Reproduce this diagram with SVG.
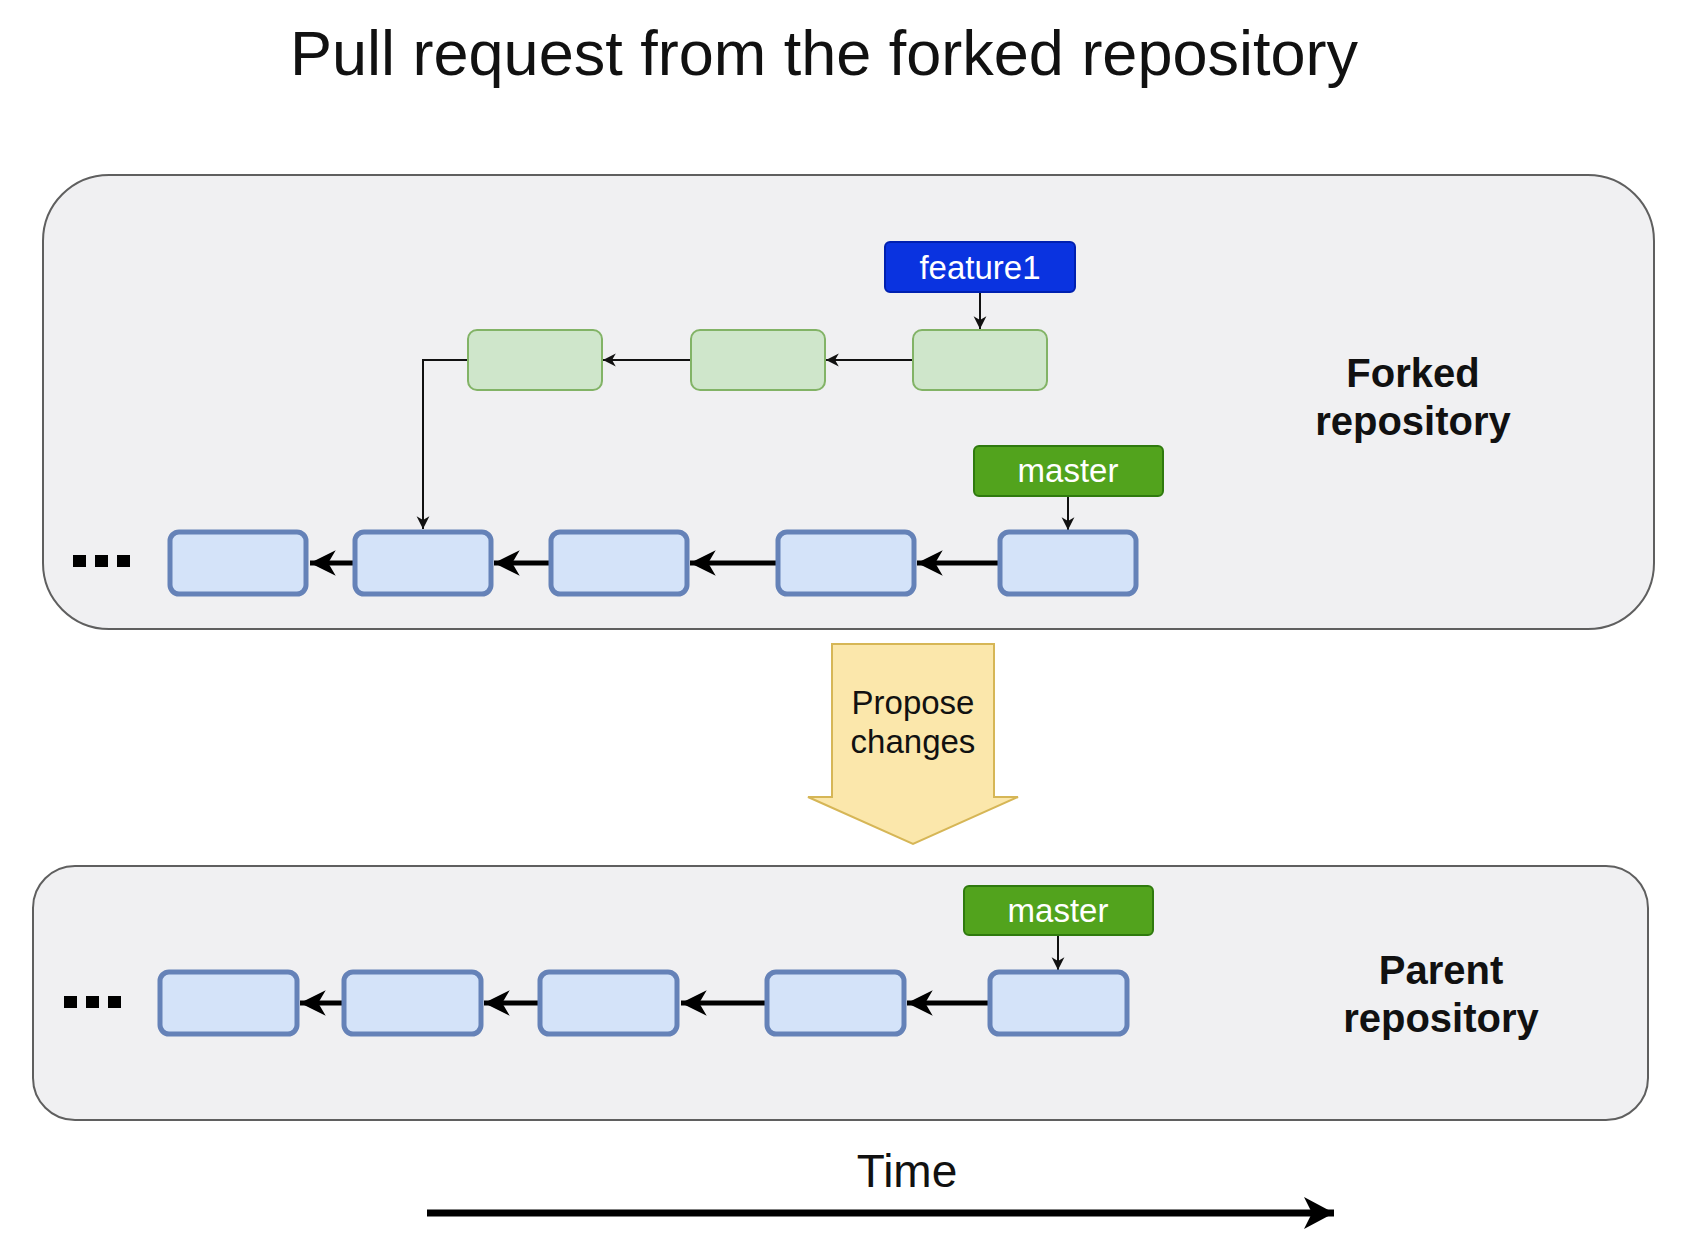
<svg xmlns="http://www.w3.org/2000/svg" width="1687" height="1246" viewBox="0 0 1687 1246">
<style>
text{font-family:"Liberation Sans",Arial,Helvetica,sans-serif}
.repo{fill:#f0f0f2;stroke:#5f5f5f;stroke-width:2}
.commit{fill:#d4e3f9;stroke:#6582b8;stroke-width:5}
.gcommit{fill:#cfe6cb;stroke:#82b366;stroke-width:2}
.lbl{font-size:33px;fill:#ffffff;text-anchor:middle}
.repotxt{font-size:40px;font-weight:bold;fill:#111;text-anchor:middle}
.thick{stroke:#000;stroke-width:5;fill:none}
.thin{stroke:#111;stroke-width:2;fill:none}
.dot{fill:#000}
</style>
<defs>
<marker id="big" markerUnits="userSpaceOnUse" markerWidth="30" markerHeight="30" viewBox="-26 -13 28 26" refX="0" refY="0" orient="auto">
<path d="M0,0 L-24,-12 L-17,0 L-24,12 Z" fill="#000"/>
</marker>
<marker id="small" markerUnits="userSpaceOnUse" markerWidth="16" markerHeight="16" viewBox="-14 -7 15 14" refX="0" refY="0" orient="auto">
<path d="M0,0 L-12,-6 L-8.5,0 L-12,6 Z" fill="#111"/>
</marker>
<marker id="time" markerUnits="userSpaceOnUse" markerWidth="34" markerHeight="40" viewBox="-32 -18 34 36" refX="0" refY="0" orient="auto">
<path d="M0,0 L-30,-16 L-22,0 L-30,16 Z" fill="#000"/>
</marker>
</defs>

<text id="title" x="824" y="75" font-size="63" text-anchor="middle" fill="#111">Pull request from the forked repository</text>

<g id="forked-repo">
<rect class="repo" x="43" y="175" width="1611" height="454" rx="66"/>
<text class="repotxt" x="1413" y="387">Forked</text>
<text class="repotxt" x="1413" y="435">repository</text>
</g>

<g id="parent-repo">
<rect class="repo" x="33" y="866" width="1615" height="254" rx="42"/>
<text class="repotxt" x="1441" y="984">Parent</text>
<text class="repotxt" x="1441" y="1032">repository</text>
</g>

<g id="connectors">
<line class="thick" x1="355" y1="563" x2="310" y2="563" marker-end="url(#big)"/>
<line class="thick" x1="551" y1="563" x2="494" y2="563" marker-end="url(#big)"/>
<line class="thick" x1="778" y1="563" x2="690" y2="563" marker-end="url(#big)"/>
<line class="thick" x1="1000" y1="563" x2="917" y2="563" marker-end="url(#big)"/>
<line class="thick" x1="344" y1="1003" x2="300" y2="1003" marker-end="url(#big)"/>
<line class="thick" x1="540" y1="1003" x2="484" y2="1003" marker-end="url(#big)"/>
<line class="thick" x1="767" y1="1003" x2="681" y2="1003" marker-end="url(#big)"/>
<line class="thick" x1="990" y1="1003" x2="907" y2="1003" marker-end="url(#big)"/>
<line class="thin" x1="913" y1="360" x2="826" y2="360" marker-end="url(#small)"/>
<line class="thin" x1="691" y1="360" x2="603" y2="360" marker-end="url(#small)"/>
<polyline class="thin" points="468,360 423,360 423,529" marker-end="url(#small)"/>
<line class="thin" x1="980" y1="292" x2="980" y2="329" marker-end="url(#small)"/>
<line class="thin" x1="1068" y1="496" x2="1068" y2="530" marker-end="url(#small)"/>
<line class="thin" x1="1058" y1="935" x2="1058" y2="970" marker-end="url(#small)"/>
</g>

<g id="top-dots">
<rect class="dot" x="73" y="555" width="13" height="12"/>
<rect class="dot" x="95" y="555" width="13" height="12"/>
<rect class="dot" x="117" y="555" width="13" height="12"/>
</g>
<g id="top-commit-1"><rect class="commit" x="170" y="532" width="136" height="62" rx="9"/></g>
<g id="top-commit-2"><rect class="commit" x="355" y="532" width="136" height="62" rx="9"/></g>
<g id="top-commit-3"><rect class="commit" x="551" y="532" width="136" height="62" rx="9"/></g>
<g id="top-commit-4"><rect class="commit" x="778" y="532" width="136" height="62" rx="9"/></g>
<g id="top-commit-5"><rect class="commit" x="1000" y="532" width="136" height="62" rx="9"/></g>

<g id="feature-commit-1"><rect class="gcommit" x="468" y="330" width="134" height="60" rx="9"/></g>
<g id="feature-commit-2"><rect class="gcommit" x="691" y="330" width="134" height="60" rx="9"/></g>
<g id="feature-commit-3"><rect class="gcommit" x="913" y="330" width="134" height="60" rx="9"/></g>

<g id="feature1-label">
<rect x="885" y="242" width="190" height="50" rx="5" fill="#0a33e0" stroke="#0020b0" stroke-width="2"/>
<text class="lbl" x="980" y="279">feature1</text>
</g>
<g id="master-label-top">
<rect x="974" y="446" width="189" height="50" rx="5" fill="#52a31d" stroke="#2f7a0e" stroke-width="2"/>
<text class="lbl" x="1068" y="482">master</text>
</g>

<g id="propose-changes">
<path d="M832,644 L994,644 L994,797 L1018,797 L913,844 L808,797 L832,797 Z" fill="#fbe7ab" stroke="#d6b656" stroke-width="2"/>
<text x="913" y="714" font-size="33" text-anchor="middle" fill="#111">Propose</text>
<text x="913" y="753" font-size="33" text-anchor="middle" fill="#111">changes</text>
</g>

<g id="bottom-dots">
<rect class="dot" x="64" y="996" width="13" height="12"/>
<rect class="dot" x="86" y="996" width="13" height="12"/>
<rect class="dot" x="108" y="996" width="13" height="12"/>
</g>
<g id="bottom-commit-1"><rect class="commit" x="160" y="972" width="137" height="62" rx="9"/></g>
<g id="bottom-commit-2"><rect class="commit" x="344" y="972" width="137" height="62" rx="9"/></g>
<g id="bottom-commit-3"><rect class="commit" x="540" y="972" width="137" height="62" rx="9"/></g>
<g id="bottom-commit-4"><rect class="commit" x="767" y="972" width="137" height="62" rx="9"/></g>
<g id="bottom-commit-5"><rect class="commit" x="990" y="972" width="137" height="62" rx="9"/></g>
<g id="master-label-bottom">
<rect x="964" y="886" width="189" height="49" rx="5" fill="#52a31d" stroke="#2f7a0e" stroke-width="2"/>
<text class="lbl" x="1058" y="922">master</text>
</g>

<g id="time-axis">
<text x="907" y="1187" font-size="46" text-anchor="middle" fill="#111">Time</text>
<line x1="427" y1="1213" x2="1334" y2="1213" stroke="#000" stroke-width="7" marker-end="url(#time)"/>
</g>
</svg>
